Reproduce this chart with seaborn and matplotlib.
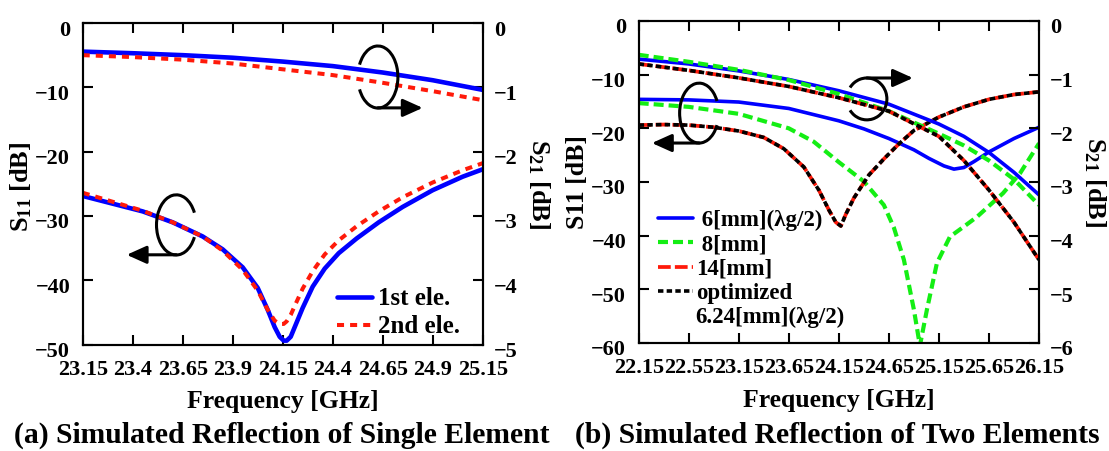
import matplotlib
matplotlib.use("Agg")
import matplotlib.pyplot as plt
import matplotlib.transforms as mtransforms
from matplotlib.patches import Arc
import seaborn as sns

# ---------------- (a) single element ----------------
freq_a = [23.15, 23.3, 23.45, 23.6, 23.75, 23.85, 23.95, 24.025, 24.075, 24.11, 24.135, 24.155,
          24.17, 24.19, 24.21, 24.25, 24.3, 24.36, 24.43, 24.52, 24.63, 24.75, 24.9, 25.05, 25.15]
s11_a_1st = [-26.9, -28.1, -29.3, -31.0, -33.2, -35.2, -38.0, -41.2, -44.6, -47.3, -48.8, -49.4,
             -49.4, -48.8, -47.3, -44.3, -41.0, -38.2, -35.8, -33.5, -31.0, -28.6, -26.0, -23.9,
             -22.75]
s11_a_2nd = [-26.4, -27.8, -29.2, -31.0, -33.2, -35.4, -38.4, -41.6, -44.6, -46.3, -46.8, -46.8,
             -46.4, -45.4, -44.0, -41.3, -38.6, -36.0, -33.8, -31.6, -29.3, -27.1, -24.8, -22.9,
             -21.8]

freq_a_s21 = [23.15, 23.4, 23.65, 23.9, 24.15, 24.4, 24.65, 24.9, 25.15]
s21_a_1st = [-0.445, -0.47, -0.50, -0.54, -0.60, -0.67, -0.77, -0.89, -1.04]
s21_a_2nd = [-0.50, -0.53, -0.57, -0.63, -0.72, -0.81, -0.93, -1.06, -1.20]

ticks_a = [23.15, 23.4, 23.65, 23.9, 24.15, 24.4, 24.65, 24.9, 25.15]
ticklabels_a = ["23.15", "23.4", "23.65", "23.9", "24.15", "24.4", "24.65", "24.9", "25.15"]

# ---------------- (b) two elements ----------------
freq_b_s21 = [22.15, 22.65, 23.15, 23.65, 24.15, 24.65, 25.15, 25.4, 25.65, 25.9, 26.15]
s21_b_6mm = [-0.71, -0.80, -0.93, -1.09, -1.30, -1.55, -1.92, -2.15, -2.45, -2.82, -3.24]
s21_b_8mm = [-0.63, -0.76, -0.91, -1.10, -1.36, -1.68, -2.10, -2.32, -2.60, -2.95, -3.43]
s21_b_14mm = [-0.80, -0.92, -1.06, -1.22, -1.43, -1.68, -2.15, -2.60, -3.15, -3.75, -4.45]
s21_b_opt = [-0.80, -0.92, -1.06, -1.22, -1.43, -1.68, -2.15, -2.60, -3.15, -3.75, -4.45]

freq_b_6mm = [22.15, 22.65, 23.15, 23.65, 24.15, 24.4, 24.65, 24.9, 25.05, 25.2, 25.3, 25.4,
              25.5, 25.65, 25.9, 26.15]
s11_b_6mm = [-14.6, -14.7, -15.1, -16.3, -18.6, -20.1, -21.9, -24.0, -25.6, -27.0, -27.6, -27.3,
             -26.2, -24.4, -21.9, -19.8]

freq_b_8mm = [22.15, 22.65, 23.15, 23.65, 23.9, 24.15, 24.4, 24.6, 24.7, 24.8, 24.9,
              24.96, 25.03, 25.13, 25.26, 25.4, 25.53, 25.79, 25.96, 26.15]
s11_b_8mm = [-15.3, -16.0, -17.3, -20.0, -22.5, -26.3, -29.9, -34.3, -38.5, -44.5, -53.8,
             -60.5, -53.8, -45.1, -40.2, -38.3, -36.5, -32.1, -28.4, -22.8]

freq_b_14mm = [22.15, 22.4, 22.65, 22.9, 23.15, 23.4, 23.6, 23.8, 23.95, 24.05, 24.12,
               24.17, 24.22, 24.3, 24.45, 24.6, 24.75, 24.9, 25.15, 25.4, 25.65, 25.9, 26.15]
s11_b_14mm = [-19.4, -19.3, -19.4, -19.8, -20.5, -21.7, -23.8, -27.2, -31.5, -35.2, -37.5,
              -38.2, -36.0, -33.0, -28.7, -25.7, -22.9, -20.4, -17.9, -16.0, -14.6, -13.7, -13.2]
s11_b_opt = [-19.4, -19.3, -19.4, -19.8, -20.5, -21.7, -23.8, -27.2, -31.5, -35.2, -37.5,
             -38.2, -36.0, -33.0, -28.7, -25.7, -22.9, -20.4, -17.9, -16.0, -14.6, -13.7, -13.2]

ticks_b = [22.15, 22.65, 23.15, 23.65, 24.15, 24.65, 25.15, 25.65, 26.15]
ticklabels_b = ["22.15", "22.55", "23.15", "23.65", "24.15", "24.65", "25.15", "25.65", "26.15"]

BLUE = "#0000ff"
RED = "#ff1a0a"
GREEN = "#14ee14"
BLACK = "#000000"

sns.set_theme(style="ticks")
plt.rcParams.update({
    "font.family": ["Liberation Serif", "DejaVu Serif"],
    "font.weight": "bold",
    "mathtext.fontset": "custom",
    "mathtext.rm": "Liberation Serif:bold",
    "mathtext.bf": "Liberation Serif:bold",
    "mathtext.it": "Liberation Serif:bold",
    "axes.linewidth": 1.5,
    "axes.edgecolor": "black",
    "text.color": "black",
    "xtick.color": "black",
    "ytick.color": "black",
})

fig = plt.figure(figsize=(11.09, 4.51), dpi=100)
ax_a = fig.add_axes([0.07457, 0.23614, 0.36069, 0.71286])
ax_b = fig.add_axes([0.57592, 0.23947, 0.36096, 0.71397])
ax_a2 = ax_a.twinx()
ax_b2 = ax_b.twinx()


def style_axes(ax, ax2, xlim, ticks, labels, ylim, yticks, ylim2, yticks2):
    ax.set_xlim(*xlim)
    ax.set_xticks(ticks)
    ax.set_xticklabels(labels)
    ax.set_ylim(*ylim)
    ax.set_yticks(yticks)
    ax2.set_ylim(*ylim2)
    ax2.set_yticks(yticks2)
    ax.tick_params(axis="x", direction="in", length=7.2, width=1.5, top=True,
                   labelsize=16, pad=11)
    ax.tick_params(axis="y", direction="in", length=7.2, width=1.5, labelsize=16, pad=9)
    ax2.tick_params(axis="y", direction="in", length=7.2, width=1.5, labelsize=16, pad=8)
    for a in (ax, ax2):
        a.set_xlabel("")
        a.set_ylabel("")
        for s in a.spines.values():
            s.set_linewidth(1.5)
            s.set_color("black")
    shift = mtransforms.ScaledTranslation(0, -5 / 100, fig.dpi_scale_trans)
    for lbl in ax.get_yticklabels() + ax2.get_yticklabels():
        lbl.set_transform(lbl.get_transform() + shift)
        lbl.set_fontweight("bold")
    for lbl in ax.get_xticklabels():
        lbl.set_fontweight("bold")


def rotation_arrow(ax, center, w, h, theta1, theta2, start, end):
    ax.add_patch(Arc(center, w, h, theta1=theta1, theta2=theta2, transform=ax.transAxes,
                     color="black", lw=2.2, clip_on=False, zorder=6))
    ax.annotate("", xy=end, xytext=start, xycoords="axes fraction",
                textcoords="axes fraction", zorder=6,
                arrowprops=dict(arrowstyle="-|>,head_length=1.0,head_width=0.45",
                                color="black", lw=2.2, shrinkA=0, shrinkB=0,
                                mutation_scale=12))


# ---- panel (a) ----
l_1st = sns.lineplot(x=freq_a, y=s11_a_1st, ax=ax_a, color=BLUE, lw=3.3, sort=False).lines[-1]
l_2nd = sns.lineplot(x=freq_a, y=s11_a_2nd, ax=ax_a, color=RED, lw=2.9, sort=False,
                     linestyle=(0, (1.75, 1.5))).lines[-1]
sns.lineplot(x=freq_a_s21, y=s21_a_1st, ax=ax_a2, color=BLUE, lw=3.3, sort=False)
sns.lineplot(x=freq_a_s21, y=s21_a_2nd, ax=ax_a2, color=RED, lw=2.9, sort=False,
             linestyle=(0, (1.75, 1.5)))

style_axes(ax_a, ax_a2, (23.15, 25.15), ticks_a, ticklabels_a,
           (-50, 0), [-50, -40, -30, -20, -10, 0], (-5, 0), [-5, -4, -3, -2, -1, 0])

leg_a = ax_a2.legend([l_1st, l_2nd], ["1st ele.", "2nd ele."], loc="upper left",
                     bbox_to_anchor=(0.635, 0.178), frameon=False, fontsize=18,
                     handlelength=1.4, handletextpad=0.25, labelspacing=0.2,
                     borderpad=0, borderaxespad=0)
for t in leg_a.get_texts():
    t.set_fontweight("bold")

rotation_arrow(ax_a2, (0.738, 0.832), 0.10, 0.193, -140, 140, (0.738, 0.736), (0.85, 0.736))
rotation_arrow(ax_a2, (0.234, 0.372), 0.099, 0.187, 40, 320, (0.234, 0.279), (0.11, 0.279))

ax_a.text(-0.153, 0.49, r"$\mathrm{S}_{11}$ [dB]", transform=ax_a.transAxes, rotation=90,
          ha="center", va="center", fontsize=19, fontweight="bold")
ax_a.text(1.141, 0.5, r"$\mathrm{S}_{21}$ [dB]", transform=ax_a.transAxes, rotation=270,
          ha="center", va="center", fontsize=19, fontweight="bold")
ax_a.text(0.5, -0.176, "Frequency [GHz]", transform=ax_a.transAxes, ha="center",
          va="center", fontsize=18.5, fontweight="bold")

# ---- panel (b) ----
h_6 = sns.lineplot(x=freq_b_6mm, y=s11_b_6mm, ax=ax_b, color=BLUE, lw=2.6, sort=False).lines[-1]
h_8 = sns.lineplot(x=freq_b_8mm, y=s11_b_8mm, ax=ax_b, color=GREEN, lw=3.0, sort=False,
                   linestyle=(0, (2.4, 1.2))).lines[-1]
h_14 = sns.lineplot(x=freq_b_14mm, y=s11_b_14mm, ax=ax_b, color=RED, lw=2.7, sort=False,
                    linestyle=(0, (3.4, 1.1))).lines[-1]
h_opt = sns.lineplot(x=freq_b_14mm, y=s11_b_opt, ax=ax_b, color=BLACK, lw=2.6, sort=False,
                     linestyle=(0, (1.5, 0.9))).lines[-1]

sns.lineplot(x=freq_b_s21, y=s21_b_6mm, ax=ax_b2, color=BLUE, lw=2.6, sort=False)
sns.lineplot(x=freq_b_s21, y=s21_b_8mm, ax=ax_b2, color=GREEN, lw=3.0, sort=False,
             linestyle=(0, (2.4, 1.2)))
sns.lineplot(x=freq_b_s21, y=s21_b_14mm, ax=ax_b2, color=RED, lw=2.7, sort=False,
             linestyle=(0, (3.4, 1.1)))
sns.lineplot(x=freq_b_s21, y=s21_b_opt, ax=ax_b2, color=BLACK, lw=2.6, sort=False,
             linestyle=(0, (1.5, 0.9)))

style_axes(ax_b, ax_b2, (22.15, 26.15), ticks_b, ticklabels_b,
           (-60, 0), [-60, -50, -40, -30, -20, -10, 0], (-6, 0),
           [-6, -5, -4, -3, -2, -1, 0])

leg_b = ax_b2.legend([h_6, h_8, h_14, h_opt],
                     [" 6[mm](\u03bbg/2)", " 8[mm]", "14[mm]", "optimized"],
                     loc="upper left", bbox_to_anchor=(0.048, 0.414), frameon=False,
                     fontsize=16.5, handlelength=1.55, handletextpad=0.1,
                     labelspacing=0.15, borderpad=0, borderaxespad=0)
for t in leg_b.get_texts():
    t.set_fontweight("bold")
ax_b2.text(0.141, 0.081, "6.24[mm](\u03bbg/2)", transform=ax_b2.transAxes, ha="left",
           va="center", fontsize=16.5, fontweight="bold")

rotation_arrow(ax_b2, (0.151, 0.714), 0.0975, 0.186, 40, 320, (0.151, 0.621), (0.033, 0.621))
rotation_arrow(ax_b2, (0.570, 0.758), 0.10, 0.130, -140, 140, (0.570, 0.823), (0.685, 0.823))

ax_b.text(-0.153, 0.5, "S11 [dB]", transform=ax_b.transAxes, rotation=90,
          ha="center", va="center", fontsize=18.5, fontweight="bold")
ax_b.text(1.140, 0.5, r"$\mathrm{S}_{21}$ [dB]", transform=ax_b.transAxes, rotation=270,
          ha="center", va="center", fontsize=19, fontweight="bold")
ax_b.text(0.5, -0.18, "Frequency [GHz]", transform=ax_b.transAxes, ha="center",
          va="center", fontsize=18.5, fontweight="bold")

# ---- sub-figure captions ----
fig.text(282 / 1109, 1 - 435 / 451, "(a) Simulated Reflection of Single Element",
         ha="center", va="center", fontsize=21.3, fontweight="bold")
fig.text(837 / 1109, 1 - 435 / 451, "(b) Simulated Reflection of Two Elements",
         ha="center", va="center", fontsize=21.3, fontweight="bold")

fig.savefig("out.png", dpi=100)
